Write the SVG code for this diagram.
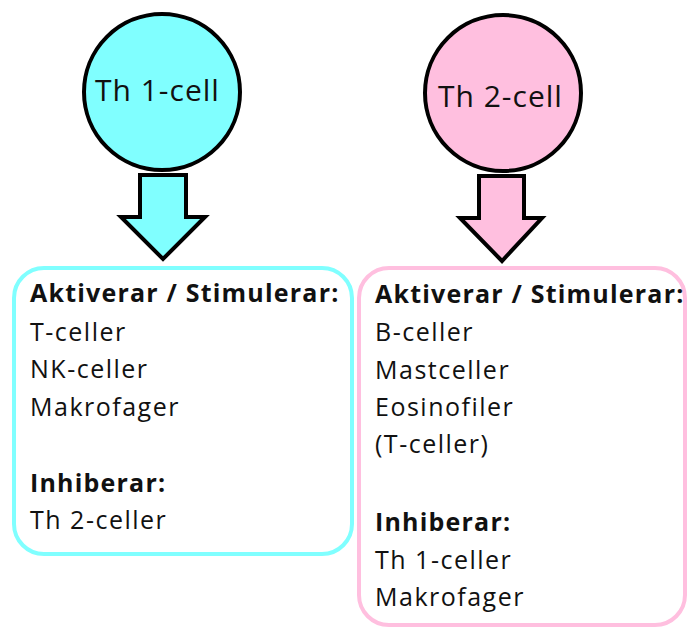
<svg xmlns="http://www.w3.org/2000/svg" width="687" height="628" viewBox="0 0 687 628">
  <style>
    .cell { stroke: #000; stroke-width: 4; }
    .arrow { stroke: #000; stroke-width: 4; stroke-linejoin: miter; }
    .box { fill: #fff; stroke-width: 4; }
    .th1 { fill: #80ffff; }
    .th2 { fill: #ffbfdf; }
    .box1 { stroke: #80ffff; }
    .box2 { stroke: #ffbfdf; }
    text { font-family: "Open Sans", "Liberation Sans", sans-serif; fill: #111; }
    .title { font-size: 30px; letter-spacing: 1px; }
    .head { font-size: 25px; font-weight: bold; letter-spacing: 1.2px; }
    .item { font-size: 25px; letter-spacing: 1.5px; }
  </style>
  <rect width="687" height="628" fill="#fff"/>

  <!-- Th1 cell -->
  <g id="th1-cell">
    <circle class="cell th1" cx="162" cy="92" r="78"/>
    <text class="title" x="95" y="101">Th 1-cell</text>
  </g>

  <!-- Th2 cell -->
  <g id="th2-cell">
    <circle class="cell th2" cx="503" cy="93" r="78"/>
    <text class="title" x="438" y="107">Th 2-cell</text>
  </g>

  <!-- block arrows -->
  <g id="connectors">
    <path class="arrow th1" d="M140,175 H186 V217 H205 L163,259 L121,217 H140 Z"/>
    <path class="arrow th2" d="M479,176 H524 V218 H542 L502,261 L460,218 H479 Z"/>
  </g>

  <!-- Th1 effects -->
  <g id="th1-effects">
    <rect class="box box1" x="14" y="268" width="338" height="286" rx="30"/>
    <text class="head" x="30" y="302">Aktiverar / Stimulerar:</text>
    <text class="item" x="30" y="341">T-celler</text>
    <text class="item" x="30" y="378">NK-celler</text>
    <text class="item" x="30" y="416">Makrofager</text>
    <text class="head" x="30" y="492">Inhiberar:</text>
    <text class="item" x="30" y="529">Th 2-celler</text>
  </g>

  <!-- Th2 effects -->
  <g id="th2-effects">
    <rect class="box box2" x="359" y="268" width="326" height="357" rx="30"/>
    <text class="head" x="375" y="303">Aktiverar / Stimulerar:</text>
    <text class="item" x="375" y="341">B-celler</text>
    <text class="item" x="375" y="379">Mastceller</text>
    <text class="item" x="375" y="416">Eosinofiler</text>
    <text class="item" x="375" y="453">(T-celler)</text>
    <text class="head" x="375" y="531">Inhiberar:</text>
    <text class="item" x="375" y="569">Th 1-celler</text>
    <text class="item" x="375" y="606">Makrofager</text>
  </g>
</svg>
